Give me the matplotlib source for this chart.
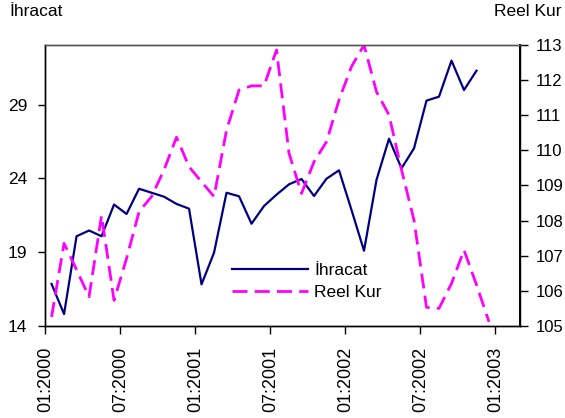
import matplotlib
matplotlib.use("Agg")
import matplotlib.pyplot as plt
import numpy as np

# ---- data ----
ihracat = [16.85, 14.81, 20.08, 20.47, 20.08, 22.23, 21.59, 23.3, 23.03, 22.76,
           22.27, 21.95, 16.82, 18.97, 23.03, 22.79, 20.93, 22.13, 22.9, 23.6,
           23.96, 22.81, 23.98, 24.55, 21.86, 19.1, 23.9, 26.69, 24.68, 26.04,
           29.27, 29.54, 31.98, 29.99, 31.3]
reel_kur = [105.26, 107.35, 106.6, 105.83, 108.14, 105.73, 106.92, 108.25, 108.68, 109.44,
            110.37, 109.53, 109.1, 108.68, 110.57, 111.71, 111.83, 111.83, 112.85, 109.91,
            108.77, 109.67, 110.24, 111.43, 112.38, 112.99, 111.66, 111.0, 109.44, 108.01,
            105.53, 105.5, 106.21, 107.16, 106.17, 105.12]
tick_labels = ["01:2000", "07:2000", "01:2001", "07:2001", "01:2002", "07:2002", "01:2003"]
left_ticks = [14, 19, 24, 29]
right_ticks = [105, 106, 107, 108, 109, 110, 111, 112, 113]

FONT = ["Liberation Sans", "DejaVu Sans"]
plt.rcParams['font.family'] = FONT

fig = plt.figure(figsize=(5.65, 4.18), dpi=100)
ax = fig.add_axes([45.3/565, 1-326/418, (520-45.3)/565, (326-44.7)/418])
ax2 = ax.twinx()

x1 = np.arange(len(ihracat)) + 0.5
x2 = np.arange(len(reel_kur)) + 0.5

l1, = ax.plot(x1, ihracat, color="#000080", lw=1.6, label="İhracat", zorder=3)
l2, = ax2.plot(x2, reel_kur, color="#FF00FF", lw=2.0, dashes=(5.4, 2.6), label="Reel Kur")

ax.set_xlim(0, 37.98)
ax.set_ylim(14, 33.06)
ax2.set_ylim(105, 113)

ax.set_xticks(np.arange(len(tick_labels)) * 6)
ax.set_xticklabels(tick_labels, rotation=90, fontsize=13)
ax.set_yticks(left_ticks)
ax.set_yticklabels([str(v) for v in left_ticks], fontsize=12.5)
ax2.set_yticks(right_ticks)
ax2.set_yticklabels([str(v) for v in right_ticks], fontsize=12)

ax.tick_params(axis='x', direction='out', length=6, width=1, pad=9)
ax.tick_params(axis='y', direction='out', length=5, width=1, pad=8)
ax2.tick_params(axis='y', direction='out', length=6, width=1, pad=5)

for a in (ax, ax2):
    for s in a.spines.values():
        s.set_linewidth(1.0)
        s.set_color("black")
    a.spines['top'].set_color("#555555")
ax2.spines['right'].set_linewidth(1.4)

fig.text(9/565, 1-4/418, "İhracat", ha='left', va='top', fontsize=12.5)
fig.text(562/565, 1-4/418, "Reel Kur", ha='right', va='top', fontsize=12.5)

leg = ax2.legend(handles=[l1, l2], loc='upper left', bbox_to_anchor=(232/565, 1-263/418),
                 bbox_transform=fig.transFigure, frameon=False, fontsize=12.5,
                 handlelength=4.4, handletextpad=0.35, labelspacing=0.38,
                 borderpad=0, borderaxespad=0)

fig.savefig("out.png", dpi=100)
